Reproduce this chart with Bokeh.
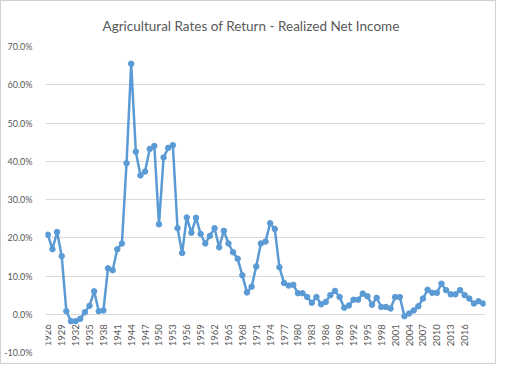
from bokeh.plotting import figure
from bokeh.models import FixedTicker, PrintfTickFormatter, Range1d, ColumnDataSource
from bokeh.embed import file_html
from bokeh.resources import INLINE
import math

years = list(range(1926, 2021))
returns = [
    20.8, 17.0, 21.5, 15.2, 0.8, -1.8, -1.8, -1.2, 0.5, 2.2,
    6.0, 0.8, 1.0, 12.0, 11.5, 17.0, 18.5, 39.5, 65.5, 42.5,
    36.3, 37.3, 43.2, 44.0, 23.5, 41.0, 43.5, 44.2, 22.5, 16.0,
    25.3, 21.3, 25.2, 21.0, 18.5, 20.5, 22.5, 17.5, 21.8, 18.5,
    16.2, 14.5, 10.2, 5.7, 7.2, 12.5, 18.5, 19.0, 23.8, 22.3,
    12.3, 8.2, 7.5, 7.7, 5.5, 5.5, 4.5, 3.0, 4.5, 2.6,
    3.2, 5.0, 6.1, 4.5, 1.7, 2.3, 3.8, 3.8, 5.4, 4.7,
    2.5, 4.3, 1.9, 1.9, 1.5, 4.5, 4.5, -0.5, 0.2, 1.0,
    2.1, 4.1, 6.4, 5.6, 5.6, 8.0, 6.3, 5.2, 5.2, 6.3,
    5.0, 4.1, 2.8, 3.4, 2.8,
]
x_ticks = list(range(1926, 2017, 3))
y_ticks = [-10, 0, 10, 20, 30, 40, 50, 60, 70]
title_text = "Agricultural Rates of Return - Realized Net Income"

src = ColumnDataSource(dict(year=years, ret=returns))

p = figure(frame_width=440, frame_height=306, output_backend="svg", toolbar_location=None,
           title=title_text,
           x_range=Range1d(years[0] - 0.5, years[-1] + 0.5),
           y_range=Range1d(-10, 70),
           min_border_left=36, min_border_right=10, min_border_top=45, min_border_bottom=11)
p.styles = {"border": "1px solid #d0d0d0"}
p.outline_line_color = None

p.title.text_font = "Lato"
p.title.text_font_size = "13.5px"
p.title.text_font_style = "normal"
p.title.text_color = "#595959"
p.title.align = "left"
p.title.offset = 57
p.title.standoff = 25

color = "#5b9bd5"
p.line("year", "ret", source=src, line_color=color, line_width=2.5)
p.scatter("year", "ret", source=src, size=5.5, fill_color=color, line_color=color)

p.xaxis.fixed_location = 0
p.xaxis.ticker = FixedTicker(ticks=x_ticks)
p.xaxis.formatter = PrintfTickFormatter(format="%d")
p.xaxis.major_label_orientation = math.pi / 2
p.yaxis.ticker = FixedTicker(ticks=y_ticks)
p.yaxis.formatter = PrintfTickFormatter(format="%.1f%%")
for ax in (p.xaxis[0], p.yaxis[0]):
    ax.axis_line_color = None
    ax.major_tick_line_color = None
    ax.minor_tick_line_color = None
    ax.major_label_text_font = "Lato"
    ax.major_label_text_color = "#595959"
p.xaxis.major_label_text_font_size = "9.5px"
p.yaxis.major_label_text_font_size = "9px"
p.xaxis.major_label_standoff = 4
p.yaxis.major_label_standoff = 7

p.xgrid.grid_line_color = None
p.ygrid.ticker = FixedTicker(ticks=y_ticks)
p.ygrid.grid_line_color = "#d9d9d9"

open("out.html", "w").write(file_html(p, INLINE))
